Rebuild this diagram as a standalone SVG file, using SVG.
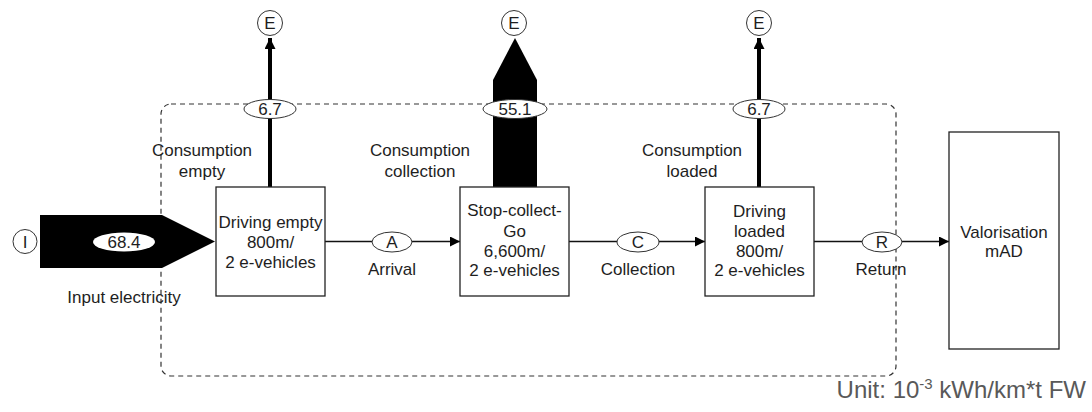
<svg xmlns="http://www.w3.org/2000/svg" width="1092" height="412" viewBox="0 0 1092 412">
<style>
text{font-family:"Liberation Sans",Arial,sans-serif;font-size:17px;fill:#1e1e1e;text-anchor:middle}
.box{fill:#fff;stroke:#222;stroke-width:1.3}
.ell{fill:#fff;stroke:#333;stroke-width:1}
.thin{stroke:#111;stroke-width:1.3;fill:none}
.thick{stroke:#000;stroke-width:4;fill:none}
.unit{font-size:24px;fill:#595959;text-anchor:end}
</style>
<defs>
<marker id="ah" viewBox="0 0 10 10" refX="10" refY="5" markerWidth="10" markerHeight="10" markerUnits="userSpaceOnUse" orient="auto">
<path d="M0,0 L10,5 L0,10 Z" fill="#000"/>
</marker>
<marker id="ahb" viewBox="0 0 10 10" refX="10" refY="5" markerWidth="11" markerHeight="11" markerUnits="userSpaceOnUse" orient="auto">
<path d="M0,0 L10,5 L0,10 Z" fill="#000"/>
</marker>
</defs>
<rect id="boundary" x="161" y="104" width="735" height="272" rx="10" fill="none" stroke="#333" stroke-width="1.2" stroke-dasharray="5,4"/>
<g id="connectors">
<polygon id="input-flow" points="40,215 162,215 215,241.5 162,268 40,268" fill="#000"/>
<polygon id="flow-collection" points="493,187 493,80 515,38 537,80 537,187" fill="#000"/>
<line class="thick" x1="270" y1="187" x2="270" y2="38" marker-end="url(#ahb)"/>
<line class="thick" x1="759" y1="187" x2="759" y2="38" marker-end="url(#ahb)"/>
<line class="thin" x1="325" y1="241.5" x2="460" y2="241.5" marker-end="url(#ah)"/>
<line class="thin" x1="569" y1="241.5" x2="705" y2="241.5" marker-end="url(#ah)"/>
<line class="thin" x1="814" y1="241.5" x2="949" y2="241.5" marker-end="url(#ah)"/>
<ellipse class="ell" cx="270" cy="109" rx="26" ry="9.5"/>
<text x="270" y="115">6.7</text>
<ellipse class="ell" cx="515" cy="109" rx="32" ry="9.5"/>
<text x="515" y="115">55.1</text>
<ellipse class="ell" cx="759" cy="109" rx="26" ry="9.5"/>
<text x="759" y="115">6.7</text>
<ellipse cx="124" cy="242" rx="31" ry="9.5" fill="#fff"/>
<text x="124" y="248">68.4</text>
<ellipse class="ell" cx="392" cy="242" rx="20" ry="10"/>
<text x="392" y="248">A</text>
<ellipse class="ell" cx="638" cy="242" rx="21" ry="10"/>
<text x="638" y="248">C</text>
<ellipse class="ell" cx="882" cy="242" rx="20" ry="10"/>
<text x="882" y="248">R</text>
<text x="392" y="275">Arrival</text>
<text x="638" y="275">Collection</text>
<text x="881" y="275">Return</text>
<text x="124" y="303">Input electricity</text>
<text x="202" y="156">Consumption</text>
<text x="202" y="177">empty</text>
<text x="420" y="156">Consumption</text>
<text x="420" y="177">collection</text>
<text x="692" y="156">Consumption</text>
<text x="692" y="177">loaded</text>
</g>
<g id="node-I">
<circle class="ell" cx="25" cy="241.5" r="12"/>
<text x="25" y="247.5">I</text>
</g>
<g id="node-E1">
<circle class="ell" cx="270" cy="23" r="12.5"/>
<text x="270" y="29">E</text>
</g>
<g id="node-E2">
<circle class="ell" cx="514" cy="23" r="12.5"/>
<text x="514" y="29">E</text>
</g>
<g id="node-E3">
<circle class="ell" cx="759" cy="23" r="12.5"/>
<text x="759" y="29">E</text>
</g>
<g id="node-driving-empty">
<rect class="box" x="216" y="187" width="109" height="109"/>
<text x="270.5" y="228">Driving empty</text>
<text x="270.5" y="248">800m/</text>
<text x="270.5" y="268">2 e-vehicles</text>
</g>
<g id="node-stop-collect-go">
<rect class="box" x="460" y="187" width="109" height="109"/>
<text x="514.5" y="216">Stop-collect-</text>
<text x="514.5" y="237">Go</text>
<text x="514.5" y="257">6,600m/</text>
<text x="514.5" y="276">2 e-vehicles</text>
</g>
<g id="node-driving-loaded">
<rect class="box" x="705" y="187" width="109" height="109"/>
<text x="759.5" y="217">Driving</text>
<text x="759.5" y="237">loaded</text>
<text x="759.5" y="257">800m/</text>
<text x="759.5" y="276">2 e-vehicles</text>
</g>
<g id="node-valorisation">
<rect class="box" x="949" y="132" width="110" height="217"/>
<text x="1004" y="238">Valorisation</text>
<text x="1004" y="257">mAD</text>
</g>
<text class="unit" x="1086" y="398">Unit: 10<tspan font-size="15" dy="-9">-3</tspan><tspan dy="9"> kWh/km*t FW</tspan></text>
</svg>
